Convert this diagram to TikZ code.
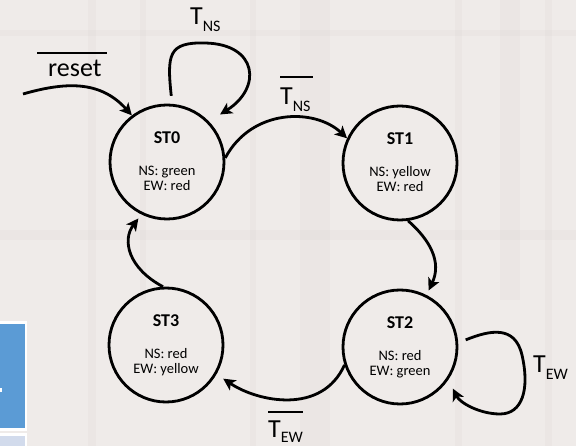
\documentclass[tikz,border=0pt]{standalone}
\usepackage{fontspec}
\setmainfont{Carlito}
\usetikzlibrary{arrows.meta,calc}
\definecolor{bgc}{RGB}{239,235,233}
\definecolor{texc}{RGB}{200,190,188}
\definecolor{boxblue}{RGB}{91,155,213}
\definecolor{boxlight}{RGB}{210,219,236}
\newcommand\sbs[1]{\raisebox{-6.5pt}{\fontsize{16}{16}\selectfont #1}}
\newcommand\sbsb[1]{\raisebox{-4.5pt}{\fontsize{16}{16}\selectfont #1}}
\begin{document}
\begin{tikzpicture}[x=1pt,y=-1pt,
  state/.style={draw, circle, line width=2.8pt, minimum size=114pt, inner sep=0pt},
  ttl/.style={font=\fontsize{18}{18}\selectfont\bfseries, inner sep=0pt, anchor=base},
  bdy/.style={font=\fontsize{14.5}{15}\selectfont, inner sep=0pt, anchor=base},
  lbl/.style={font=\fontsize{26}{26}\selectfont, inner sep=0pt, anchor=base west},
  arr/.style={line width=2.8pt, -{Stealth[length=12pt,width=12pt,inset=3pt]}},
  bar/.style={line width=1.2pt},
  tex/.style={fill=texc, opacity=0.09, draw=none}]
% background
\fill[bgc] (0,0) rectangle (576,446);
\useasboundingbox (0,0) rectangle (576,446);
\fill[tex] (88,0) rectangle (96,446);
\fill[tex] (140,0) rectangle (146,300);
\fill[tex] (250,0) rectangle (256,446);
\fill[tex] (300,0) rectangle (330,446);
\fill[tex] (455,0) rectangle (462,446);
\fill[tex] (500,0) rectangle (520,300);
\fill[tex] (545,0) rectangle (552,446);
\fill[tex] (0,230) rectangle (576,240);
\fill[tex] (0,30) rectangle (576,36);
% blue boxes at the left edge
\fill[white] (0,321) rectangle (27,431);
\fill[boxblue] (0,324) rectangle (25,428);
\fill[white] (0,388) rectangle (2,392);
\fill[white] (0,433) rectangle (27,446);
\fill[boxlight] (0,436) rectangle (25,446);
% states
\node[state] (st0) at (167,162) {};
\node[state] (st1) at (400,163) {};
\node[state] (st2) at (400,347) {};
\node[state] (st3) at (166,345) {};
\node[ttl] (st0t) at ([yshift=18pt]st0.center) {ST0};
\node[bdy] (st0a) at ([yshift=-13.5pt]st0.center) {NS: green};
\node[bdy] (st0b) at ([yshift=-28.5pt]st0.center) {EW: red};
\node[ttl] (st1t) at ([yshift=18pt]st1.center) {ST1};
\node[bdy] (st1a) at ([yshift=-13.5pt]st1.center) {NS: yellow};
\node[bdy] (st1b) at ([yshift=-28.5pt]st1.center) {EW: red};
\node[ttl] (st2t) at ([yshift=18pt]st2.center) {ST2};
\node[bdy] (st2a) at ([yshift=-13.5pt]st2.center) {NS: red};
\node[bdy] (st2b) at ([yshift=-28.5pt]st2.center) {EW: green};
\node[ttl] (st3t) at ([yshift=18pt]st3.center) {ST3};
\node[bdy] (st3a) at ([yshift=-13.5pt]st3.center) {NS: red};
\node[bdy] (st3b) at ([yshift=-28.5pt]st3.center) {EW: yellow};
% labels
\node[lbl] (tns) at (190,25) {T\sbs{NS}};
\node[lbl] (rst) at (48,77) {reset};
\draw[bar] ([xshift=-11pt,yshift=24pt]rst.base west) -- ([xshift=5pt,yshift=24pt]rst.base east);
\node[lbl] (tnsb) at (280,105) {T\sbs{NS}};
\draw[bar] ([yshift=28pt]tnsb.base west) -- ([xshift=2pt,yshift=28pt]tnsb.base east);
\node[lbl] (tew) at (533,373) {T\sbs{EW}};
\node[lbl] (tewb) at (268,438) {T\sbsb{EW}};
\draw[bar] ([yshift=26pt]tewb.base west) -- ([yshift=26pt]tewb.base east);
% transitions
\coordinate (rs) at (23,94);
\draw[arr] (rs) .. controls (65,82) and (100,80) .. (st0.127);
\draw[arr, shorten <=8pt, shorten >=13pt] (st0.85) .. controls (167,55) and (168,42) .. (205,43)
   .. controls (258,44) and (262,88) .. (st0.44);
\draw[arr] (st0.4) .. controls (252,108) and (315,108) .. (st1.155);
\draw[arr, shorten >=5pt] (st1.-82) .. controls (430,240) and (442,262) .. (st2.63);
\draw[arr, shorten <=8pt, shorten >=10pt] (st2.4) .. controls (490,330) and (515,325) .. (522,355)
   .. controls (530,390) and (522,414) .. (500,414)
   .. controls (480,414) and (460,403) .. (st2.-34);
\draw[arr, shorten >=8pt] (st2.198) .. controls (322,415) and (258,402) .. (st3.-30);
\draw[arr, shorten >=5pt] (st3.93) .. controls (128,268) and (122,240) .. (st0.244);
\end{tikzpicture}
\end{document}
